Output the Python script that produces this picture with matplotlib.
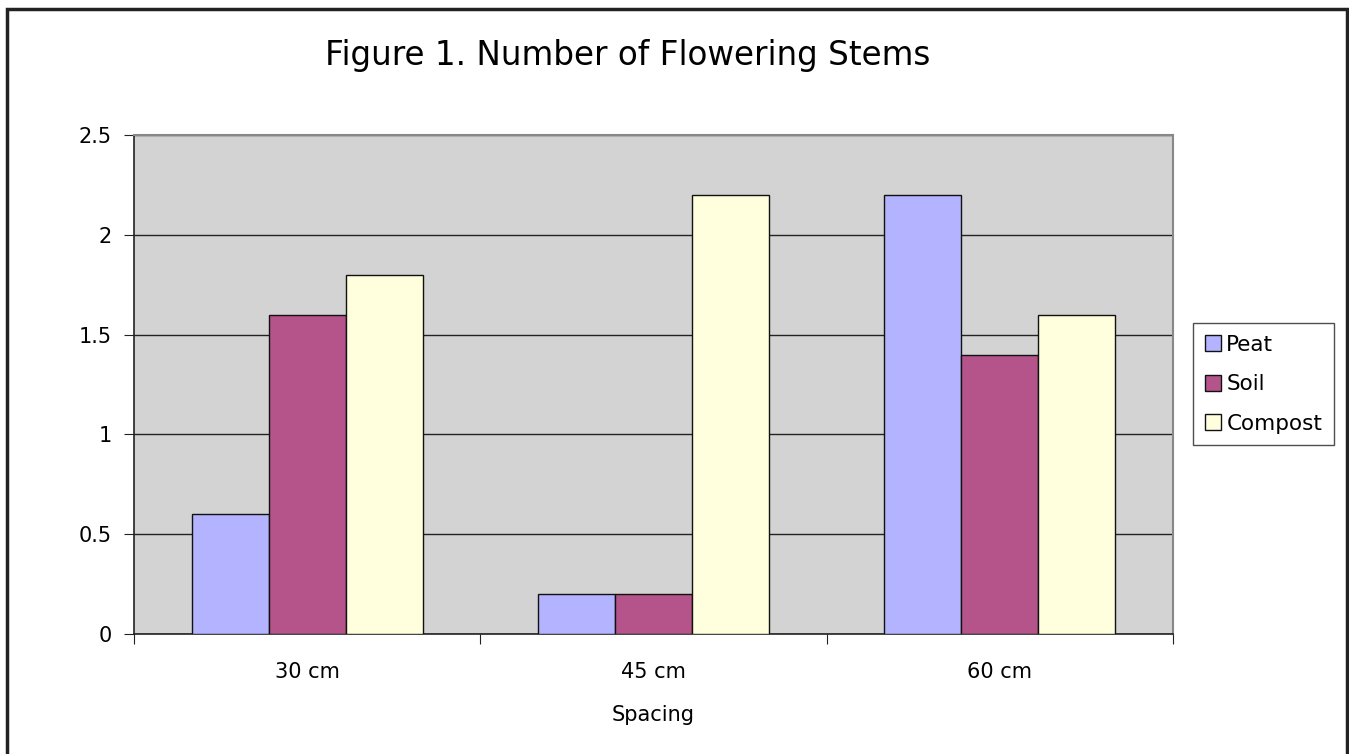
import matplotlib
matplotlib.use("Agg")
import matplotlib.pyplot as plt
import numpy as np
from matplotlib.patches import Rectangle

spacings = ["30 cm", "45 cm", "60 cm"]
series = ["Peat", "Soil", "Compost"]
peat = [0.6, 0.2, 2.2]
soil = [1.6, 0.2, 1.4]
compost = [1.8, 2.2, 1.6]
colors = ["#B3B3FF", "#B4548A", "#FFFFDD"]

plt.rcParams["font.family"] = ["DejaVu Sans"]

W, H = 1349, 754
fig = plt.figure(figsize=(W / 100, H / 100), dpi=100)
ax = fig.add_axes([134 / W, 1 - 634 / H, (1173 - 134) / W, (634 - 135) / H])
ax.set_facecolor("#D3D3D3")

x = np.arange(len(spacings))
bw = 1 / 4.5
for i, (name, vals) in enumerate(zip(series, [peat, soil, compost])):
    ax.bar(x + (i - 1) * bw, vals, width=bw, color=colors[i], edgecolor="#111111",
           linewidth=1.0, label=name, zorder=3)

ax.set_xlim(-0.5, 2.5)
ax.set_ylim(0, 2.5)
ax.set_yticks([0, 0.5, 1, 1.5, 2, 2.5])
ax.set_yticklabels(["0", "0.5", "1", "1.5", "2", "2.5"], fontsize=15)
ax.yaxis.grid(True, color="#222222", linewidth=1.0, zorder=1)
ax.set_axisbelow(True)

ax.set_xticks([-0.5, 0.5, 1.5, 2.5])
ax.set_xticklabels([])
ax.set_xticks(x, minor=True)
ax.set_xticklabels(spacings, minor=True, fontsize=15)
ax.tick_params(axis="x", which="minor", length=0, pad=20)
ax.tick_params(axis="x", which="major", length=7, direction="out", color="#222222")
ax.tick_params(axis="y", length=7, direction="out", color="#222222", pad=9)
ax.set_xlabel("Spacing", fontsize=15, labelpad=17)

for side in ["top", "right"]:
    ax.spines[side].set_color("#888888")
    ax.spines[side].set_linewidth(1.5)
for side in ["left", "bottom"]:
    ax.spines[side].set_color("#222222")
    ax.spines[side].set_linewidth(1.2)

fig.text(628 / W, 1 - 55 / H, "Figure 1. Number of Flowering Stems", fontsize=23.5,
         ha="center", va="center")

leg = ax.legend(loc="upper left", bbox_to_anchor=(1193 / W, 1 - 323 / H),
                bbox_transform=fig.transFigure, fontsize=15.5, frameon=True,
                fancybox=False, edgecolor="#222222", handlelength=0.75,
                handleheight=0.75, handletextpad=0.25, labelspacing=0.9,
                borderpad=0.55, borderaxespad=0)
leg.get_frame().set_linewidth(1.0)

fig.patches.append(Rectangle((7 / W, -0.1), (1347 - 7) / W, 1.1 - 9 / H,
                             transform=fig.transFigure, fill=False,
                             edgecolor="#222222", linewidth=2.5))

fig.savefig("out.png", dpi=100)
